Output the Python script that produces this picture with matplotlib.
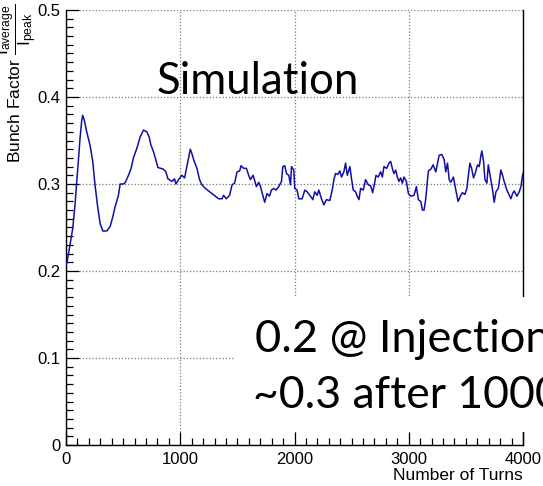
import matplotlib
matplotlib.use('Agg')
import matplotlib.pyplot as plt
from matplotlib.patches import Rectangle
from matplotlib.ticker import MultipleLocator

# ---- data ----
turns = [0, 10, 35, 59, 79, 94, 108, 123, 137, 146, 161, 181, 210, 234, 254, 275, 298, 322, 357, 386,
         409, 430, 459, 474, 503, 520, 547, 570, 590, 620, 649, 678, 707, 728, 743, 766, 786, 804, 853, 874,
         892, 927, 950, 962, 985, 1014, 1038, 1058, 1073, 1088, 1102, 1117, 1146, 1169, 1190, 1219, 1248, 1278, 1307, 1336,
         1365, 1380, 1403, 1432, 1453, 1476, 1497, 1520, 1532, 1555, 1579, 1599, 1614, 1637, 1649, 1666, 1687, 1702, 1722, 1739,
         1760, 1781, 1798, 1819, 1839, 1862, 1886, 1898, 1915, 1930, 1950, 1965, 1974, 1994, 2002, 2023, 2037, 2067, 2090, 2111,
         2140, 2160, 2178, 2198, 2213, 2236, 2257, 2271, 2280, 2309, 2330, 2345, 2359, 2379, 2397, 2412, 2432, 2447, 2462, 2485,
         2497, 2514, 2535, 2549, 2564, 2579, 2602, 2622, 2646, 2666, 2684, 2701, 2713, 2733, 2754, 2769, 2783, 2807, 2827, 2842,
         2856, 2870, 2886, 2900, 2914, 2929, 2944, 2958, 2979, 2997, 3017, 3046, 3067, 3084, 3105, 3120, 3134, 3149, 3164, 3172,
         3193, 3213, 3237, 3251, 3266, 3289, 3310, 3324, 3339, 3354, 3368, 3391, 3412, 3432, 3456, 3470, 3491, 3509, 3520, 3535,
         3550, 3567, 3581, 3602, 3617, 3632, 3640, 3655, 3667, 3684, 3696, 3714, 3734, 3748, 3763, 3784, 3806, 3821, 3835, 3859,
         3880, 3894, 3909, 3923, 3947, 3967, 3982, 3996, 4000]
bunch_factor = [0.207, 0.211, 0.230, 0.249, 0.276, 0.303, 0.326, 0.353, 0.372, 0.379, 0.373, 0.360, 0.345, 0.326, 0.299, 0.276, 0.255, 0.246, 0.246, 0.251,
                0.262, 0.274, 0.287, 0.300, 0.300, 0.302, 0.310, 0.318, 0.330, 0.341, 0.354, 0.362, 0.360, 0.354, 0.345, 0.337, 0.328, 0.319, 0.317, 0.314,
                0.306, 0.303, 0.306, 0.300, 0.305, 0.310, 0.307, 0.320, 0.330, 0.340, 0.335, 0.328, 0.318, 0.305, 0.299, 0.295, 0.292, 0.289, 0.286, 0.283,
                0.283, 0.287, 0.283, 0.287, 0.299, 0.301, 0.314, 0.315, 0.321, 0.318, 0.318, 0.310, 0.305, 0.310, 0.305, 0.297, 0.302, 0.297, 0.287, 0.279,
                0.289, 0.286, 0.293, 0.295, 0.293, 0.297, 0.303, 0.320, 0.321, 0.312, 0.310, 0.299, 0.320, 0.316, 0.295, 0.293, 0.283, 0.283, 0.293, 0.291,
                0.286, 0.282, 0.291, 0.287, 0.293, 0.283, 0.276, 0.280, 0.282, 0.281, 0.293, 0.305, 0.312, 0.311, 0.315, 0.308, 0.314, 0.324, 0.310, 0.320,
                0.308, 0.293, 0.291, 0.286, 0.282, 0.295, 0.293, 0.305, 0.299, 0.298, 0.290, 0.301, 0.310, 0.308, 0.314, 0.308, 0.320, 0.318, 0.324, 0.326,
                0.318, 0.312, 0.316, 0.308, 0.303, 0.307, 0.301, 0.308, 0.303, 0.289, 0.286, 0.287, 0.297, 0.282, 0.280, 0.270, 0.270, 0.283, 0.305, 0.315,
                0.317, 0.322, 0.314, 0.323, 0.333, 0.334, 0.328, 0.314, 0.324, 0.305, 0.302, 0.308, 0.293, 0.280, 0.287, 0.290, 0.288, 0.295, 0.308, 0.324,
                0.318, 0.307, 0.312, 0.322, 0.320, 0.333, 0.338, 0.326, 0.305, 0.301, 0.322, 0.308, 0.293, 0.279, 0.291, 0.295, 0.316, 0.310, 0.303, 0.293,
                0.287, 0.283, 0.289, 0.292, 0.286, 0.291, 0.297, 0.310, 0.312]

x_ticks = [0, 1000, 2000, 3000, 4000]
x_tick_labels = ['0', '1000', '2000', '3000', '4000']
y_ticks = [0, 0.1, 0.2, 0.3, 0.4, 0.5]
y_tick_labels = ['0', '0.1', '0.2', '0.3', '0.4', '0.5']

plt.rcParams['font.family'] = ['Liberation Sans', 'DejaVu Sans']
plt.rcParams['mathtext.fontset'] = 'custom'
plt.rcParams['mathtext.rm'] = 'Liberation Sans'
plt.rcParams['mathtext.it'] = 'Liberation Sans'
plt.rcParams['mathtext.bf'] = 'Liberation Sans:bold'

W, H = 543, 486
fig = plt.figure(figsize=(W / 100, H / 100), dpi=100)
ax = fig.add_axes([66 / W, 1 - 445 / H, (523 - 66) / W, 435 / H])

ax.plot(turns, bunch_factor, color='#1010a8', lw=1.1, zorder=3)
ax.set_xlim(0, 4000)
ax.set_ylim(0, 0.5)
ax.set_xticks(x_ticks)
ax.set_xticklabels(x_tick_labels)
ax.set_yticks(y_ticks)
ax.set_yticklabels(y_tick_labels)
ax.xaxis.set_minor_locator(MultipleLocator(100))
ax.yaxis.set_minor_locator(MultipleLocator(0.01))
ax.tick_params(which='both', direction='in', top=False, right=False, labelsize=12, color='black')
ax.tick_params(which='major', length=9.5, width=0.9)
ax.tick_params(which='minor', length=4.7, width=0.9)
ax.tick_params(axis='x', pad=5)
ax.tick_params(axis='y', pad=4)
ax.grid(True, which='major', color='#7a7a7a', linestyle=(0, (1, 1.6)), lw=0.9)
ax.spines['top'].set_visible(False)
for s in ['left', 'bottom', 'right']:
    ax.spines[s].set_linewidth(1.0)

ax.set_xlabel('Number of Turns', fontsize=12.5, loc='right', labelpad=1)

fig.text(17 / W, 1 - 3 / H,
         r'Bunch Factor $\dfrac{\mathrm{I}_{\mathrm{average}}}{\mathrm{I}_{\mathrm{peak}}}$',
         rotation=90, ha='center', va='top', fontsize=12.5)

fig.add_artist(Rectangle((235 / W, 1 - 432 / H), 1, (432 - 297) / H, transform=fig.transFigure,
                         facecolor='white', edgecolor='none', zorder=5))

fig.text(157 / W, 1 - 94 / H, 'Simulation', fontsize=31.5, family=['Lato', 'DejaVu Sans'],
         va='baseline', ha='left', zorder=6)
fig.text(255 / W, 1 - 352 / H, '0.2 @ Injection', fontsize=32.5, family=['Lato', 'DejaVu Sans'],
         va='baseline', ha='left', zorder=6)
fig.text(253 / W, 1 - 408 / H, '~0.3 after 1000 turns', fontsize=32, family=['Lato', 'DejaVu Sans'],
         va='baseline', ha='left', zorder=6)

fig.savefig('out.png', dpi=100)
